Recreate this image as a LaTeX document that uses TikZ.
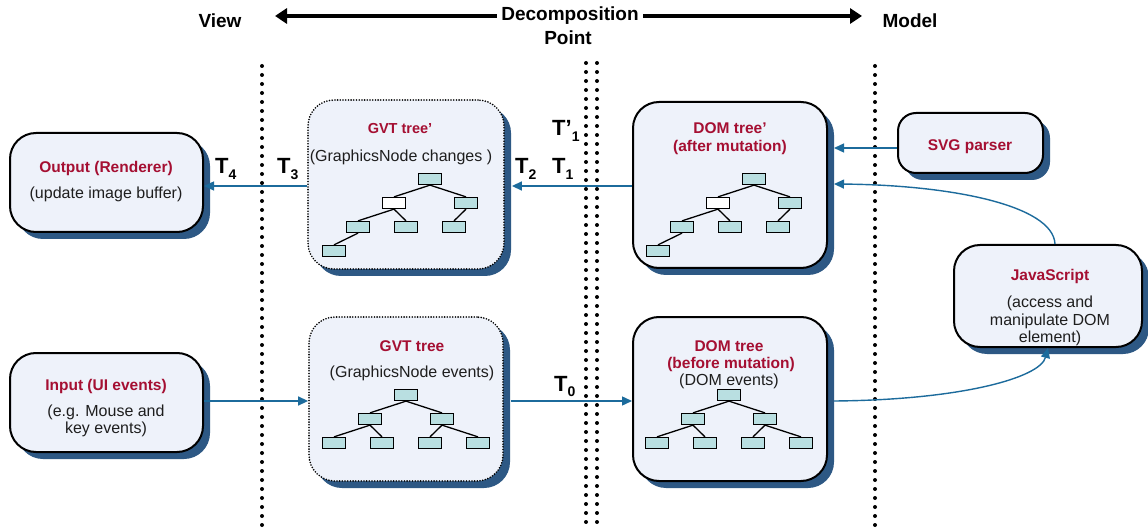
\documentclass[tikz,border=0pt]{standalone}
\usepackage{fontspec}
\setmainfont{Liberation Sans}
\usetikzlibrary{arrows.meta,shadows,calc}
\definecolor{titlered}{HTML}{A50F32}
\definecolor{boxfill}{HTML}{EEF2FA}
\definecolor{shadowc}{HTML}{2D5884}
\definecolor{arrowc}{HTML}{1C6B9C}
\definecolor{treefill}{HTML}{B9DFE1}
\definecolor{subtext}{HTML}{1E1E1E}
\newcommand\Tlab[2]{T#1\raisebox{-5.5pt}{\fontsize{14}{14}\selectfont #2}}
\tikzset{
  box/.style={draw=black, line width=2pt, fill=boxfill, rounded corners=26pt, inner sep=0pt,
    general shadow={fill=shadowc, shadow xshift=7pt, shadow yshift=-7pt}},
  dotbox/.style={box, dash pattern=on 0pt off 2.7pt, line cap=round, line width=1.8pt},
  ttl/.style={anchor=base, text=titlered, font=\fontsize{15.5}{17}\selectfont\bfseries, inner sep=0pt},
  sub/.style={anchor=base, text=subtext, font=\fontsize{16}{17}\selectfont, inner sep=0pt},
  hdr/.style={anchor=base, font=\fontsize{19}{21}\selectfont\bfseries, inner sep=0pt},
  tlab/.style={anchor=base west, font=\fontsize{22}{24}\selectfont\bfseries, inner sep=0pt},
  tn/.style={draw=black, fill=treefill, line width=1.3pt, minimum width=23pt, minimum height=11pt, inner sep=0pt},
  te/.style={line width=1.3pt},
  arr/.style={draw=arrowc, line width=1.4pt, -{Triangle[length=10pt,width=9pt]}},
  vdots/.style={line width=4pt, line cap=round, dash pattern=on 0pt off 9pt},
}
\newcommand\toptree[3]{%
  \node[tn] (#1r) at (#2,#3) {};
  \node[tn, fill=white] (#1l) at ($(#1r)+(-36,24)$) {};
  \node[tn] (#1R) at ($(#1r)+(36,24)$) {};
  \node[tn] (#1ll) at ($(#1r)+(-72,48)$) {};
  \node[tn] (#1lr) at ($(#1r)+(-24,48)$) {};
  \node[tn] (#1Rl) at ($(#1r)+(24,48)$) {};
  \node[tn] (#1lll) at ($(#1r)+(-96,72)$) {};
  \draw[te] (#1r.south) -- (#1l.north);
  \draw[te] (#1r.south) -- (#1R.north);
  \draw[te] (#1l.south) -- (#1ll.north);
  \draw[te] (#1l.south) -- (#1lr.north);
  \draw[te] (#1R.south) -- (#1Rl.north);
  \draw[te] (#1ll.south) -- (#1lll.north);
}
\newcommand\bottree[3]{%
  \node[tn] (#1r) at (#2,#3) {};
  \node[tn] (#1l) at ($(#1r)+(-36,24)$) {};
  \node[tn] (#1R) at ($(#1r)+(36,24)$) {};
  \node[tn] (#1ll) at ($(#1r)+(-72,48)$) {};
  \node[tn] (#1lr) at ($(#1r)+(-24,48)$) {};
  \node[tn] (#1Rl) at ($(#1r)+(24,48)$) {};
  \node[tn] (#1RR) at ($(#1r)+(72,48)$) {};
  \draw[te] (#1r.south) -- (#1l.north);
  \draw[te] (#1r.south) -- (#1R.north);
  \draw[te] (#1l.south) -- (#1ll.north);
  \draw[te] (#1l.south) -- (#1lr.north);
  \draw[te] (#1R.south) -- (#1Rl.north);
  \draw[te] (#1R.south) -- (#1RR.north);
}
\begin{document}
\begin{tikzpicture}[x=1pt,y=-1pt]
\useasboundingbox[fill=white] (0,0) rectangle (1148,529);

% header
\coordinate (hl) at (275,16);
\coordinate (hr) at (862,16);
\draw[line width=4.5pt, {Triangle[length=12pt,width=15pt]}-{Triangle[length=12pt,width=15pt]}] (hl) -- (hr);
\node[hdr, fill=white, inner xsep=4pt, inner ysep=2pt] (dec) at (570,21) {Decomposition};
\node[hdr] (pt) at (568,45) {Point};
\node[hdr] (view) at (220,28) {View};
\node[hdr] (model) at (910,28) {Model};

% dotted separators
\draw[vdots] (262,66) -- (262,529);
\draw[vdots] (586,63) -- (586,529);
\draw[vdots] (597,63) -- (597,529);
\draw[vdots] (875,66) -- (875,529);

% boxes
\node[box, minimum width=193pt, minimum height=99pt] (out) at (106.5,182.5) {};
\node[box, minimum width=193pt, minimum height=99pt] (inp) at (106.5,402.5) {};
\node[dotbox, minimum width=196pt, minimum height=169pt] (gvtp) at (406,184.5) {};
\node[dotbox, minimum width=194pt, minimum height=164pt] (gvt) at (406,399) {};
\node[box, minimum width=194pt, minimum height=166pt] (domp) at (730,185) {};
\node[box, minimum width=194pt, minimum height=164pt] (dom) at (730,399) {};
\node[box, rounded corners=18pt, minimum width=145pt, minimum height=60pt] (svg) at (970.5,143) {};
\node[box, minimum width=188pt, minimum height=102pt] (js) at (1048,296) {};

% texts
\node[ttl] (outT) at (106,173) {Output (Renderer)};
\node[sub] (outS) at (106,199) {(update image buffer)};
\node[ttl] (inpT) at (106,390) {Input (UI events)};
\node[sub] (inpS1) at (106,416) {(e.g. Mouse and};
\node[sub] (inpS2) at (106,433) {key events)};
\node[ttl, font=\fontsize{14.5}{16}\selectfont\bfseries] (gvtpT) at (400,134) {GVT tree’};
\node[sub] (gvtpS) at (401,162) {(GraphicsNode changes )};
\node[ttl] (gvtT) at (412,351) {GVT tree};
\node[sub] (gvtS) at (412,377) {(GraphicsNode events)};
\node[ttl] (dompT1) at (730,134) {DOM tree’};
\node[ttl] (dompT2) at (730,152) {(after mutation)};
\node[ttl] (domT1) at (729,351) {DOM tree};
\node[ttl] (domT2) at (731,368) {(before mutation)};
\node[sub] (domS) at (729,385) {(DOM events)};
\node[ttl] (svgT) at (970,151) {SVG parser};
\node[ttl] (jsT) at (1050,280) {JavaScript};
\node[sub] (jsS1) at (1050,308) {(access and};
\node[sub] (jsS2) at (1050,325) {manipulate DOM};
\node[sub] (jsS3) at (1050,342) {element)};

% trees
\toptree{a}{430}{179}
\toptree{b}{754}{179}
\bottree{c}{406}{395}
\bottree{d}{729}{395}

% T labels
\node[tlab] (t4) at (215,174) {\Tlab{}{4}};
\node[tlab] (t3) at (277,174) {\Tlab{}{3}};
\node[tlab] (t2) at (515,174) {\Tlab{}{2}};
\node[tlab] (t1) at (552,174) {\Tlab{}{1}};
\node[tlab] (t1p) at (552,136) {\Tlab{’}{1}};
\node[tlab] (t0) at (554,391) {\Tlab{}{0}};

% connectors
\coordinate (gvtpS) at ($(gvtp.east)+(7,0)$);
\coordinate (gvtS) at ($(gvt.east)+(7,0)$);
\coordinate (dompS) at ($(domp.east)+(6,0)$);
\coordinate (domS) at ($(dom.east)+(6,0)$);
\coordinate (c148) at (0,148);
\coordinate (c184) at (0,184);
\coordinate (c186) at (0,186);
\coordinate (c401) at (0,401);
\coordinate (jsTop) at ($(js.north)+(7,0)$);
\coordinate (jsBot) at (1048,348);
\draw[arr] (gvtp.west |- c186) -- (out.east |- c186);
\draw[arr] (domp.west |- c186) -- (gvtpS |- c186);
\draw[arr] (inp.east |- c401) -- (gvt.west |- c401);
\draw[arr] (gvtS |- c401) -- (dom.west |- c401);
\draw[arr] (svg.west |- c148) -- (dompS |- c148);
\draw[arr] (jsTop) .. controls (1053,205) and (950,185) .. (dompS |- c184);
\draw[arr] (domS |- c401) .. controls (960,400) and (1040,378) .. (jsBot);
\end{tikzpicture}
\end{document}
